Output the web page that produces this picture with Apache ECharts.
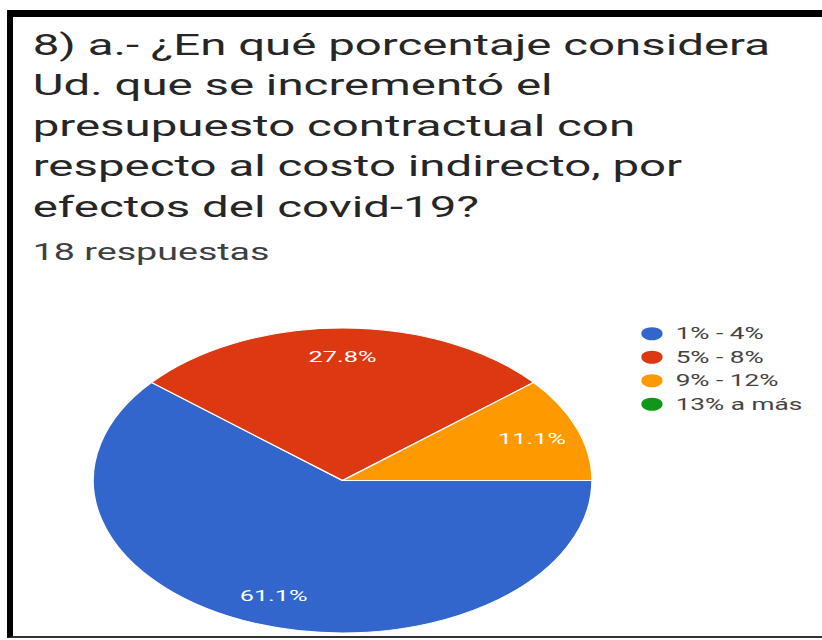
<!DOCTYPE html>
<html>
<head>
<meta charset="utf-8">
<script src="https://cdn.jsdelivr.net/npm/echarts/dist/echarts.min.js"></script>
<style>
  html, body { margin: 0; padding: 0; background: #fff; width: 822px; height: 640px; overflow: hidden; }
  #chart { position: absolute; left: 0; top: 0; width: 502.4px; height: 640px; transform: scaleX(1.636); transform-origin: 0 0; }
  #frame { position: absolute; left: 7px; top: 10px; width: 830px; height: 619px; border-left: 6px solid #000; border-top: 7px solid #000; border-bottom: 2px solid #333; pointer-events: none; }
</style>
</head>
<body>
<div id="chart"></div>
<div id="frame"></div>
<script>
const titleLines = [
  '8) a.- ¿En qué porcentaje considera',
  'Ud. que se incrementó el',
  'presupuesto contractual con',
  'respecto al costo indirecto, por',
  'efectos del covid-19?'
];
const subtitle = '18 respuestas';
const categories = ['1% - 4%', '5% - 8%', '9% - 12%', '13% a más'];
const counts = [11, 5, 2, 0];
const colors = ['#3366cc', '#dc3912', '#ff9900', '#109618'];

const titleTop = 45;
const titleStep = 40.5;
const titleLH = 30;
const titles = titleLines.map((t, i) => ({
  text: t,
  left: 20,
  top: titleTop + i * titleStep - titleLH / 2,
  padding: 0,
  textStyle: { fontFamily: 'Roboto', fontSize: 29, fontWeight: 'normal', lineHeight: titleLH, color: '#262626' }
}));
titles.push({
  text: subtitle,
  left: 20,
  top: 252 - 12,
  padding: 0,
  textStyle: { fontFamily: 'Roboto', fontSize: 23, fontWeight: 'normal', lineHeight: 24, color: '#3c4043' }
});

const data = categories.map((c, i) => ({ name: c, value: counts[i] }));
const chart = echarts.init(document.getElementById('chart'), null, { renderer: 'svg' });
chart.setOption({
  animation: false,
  color: colors,
  title: titles,
  legend: {
    orient: 'vertical',
    left: 385,
    top: 319.5,
    icon: 'circle',
    itemWidth: 15,
    itemHeight: 15,
    itemGap: 5,
    textStyle: { fontFamily: 'Roboto', fontSize: 16, color: '#444', lineHeight: 18.5, padding: [0, 0, 0, 2] },
    data: categories
  },
  series: [
    {
      type: 'pie',
      center: [209.4, 480.5],
      radius: 152.5,
      startAngle: 0,
      clockwise: true,
      silent: true,
      itemStyle: { borderColor: '#fff', borderWidth: 1 },
      label: { show: false },
      labelLine: { show: false },
      data: data
    },
    {
      type: 'pie',
      center: [209.4, 480.5],
      radius: [88, 152.5],
      startAngle: 0,
      clockwise: true,
      silent: true,
      percentPrecision: 1,
      itemStyle: { color: 'rgba(0,0,0,0)', borderWidth: 0 },
      label: {
        show: true,
        position: 'inside',
        fontFamily: 'Roboto',
        fontSize: 15.5,
        color: '#fff',
        formatter: p => (p.value > 0 ? p.percent.toFixed(1) + '%' : '')
      },
      labelLine: { show: false },
      data: data
    }
  ]
});
</script>
</body>
</html>
